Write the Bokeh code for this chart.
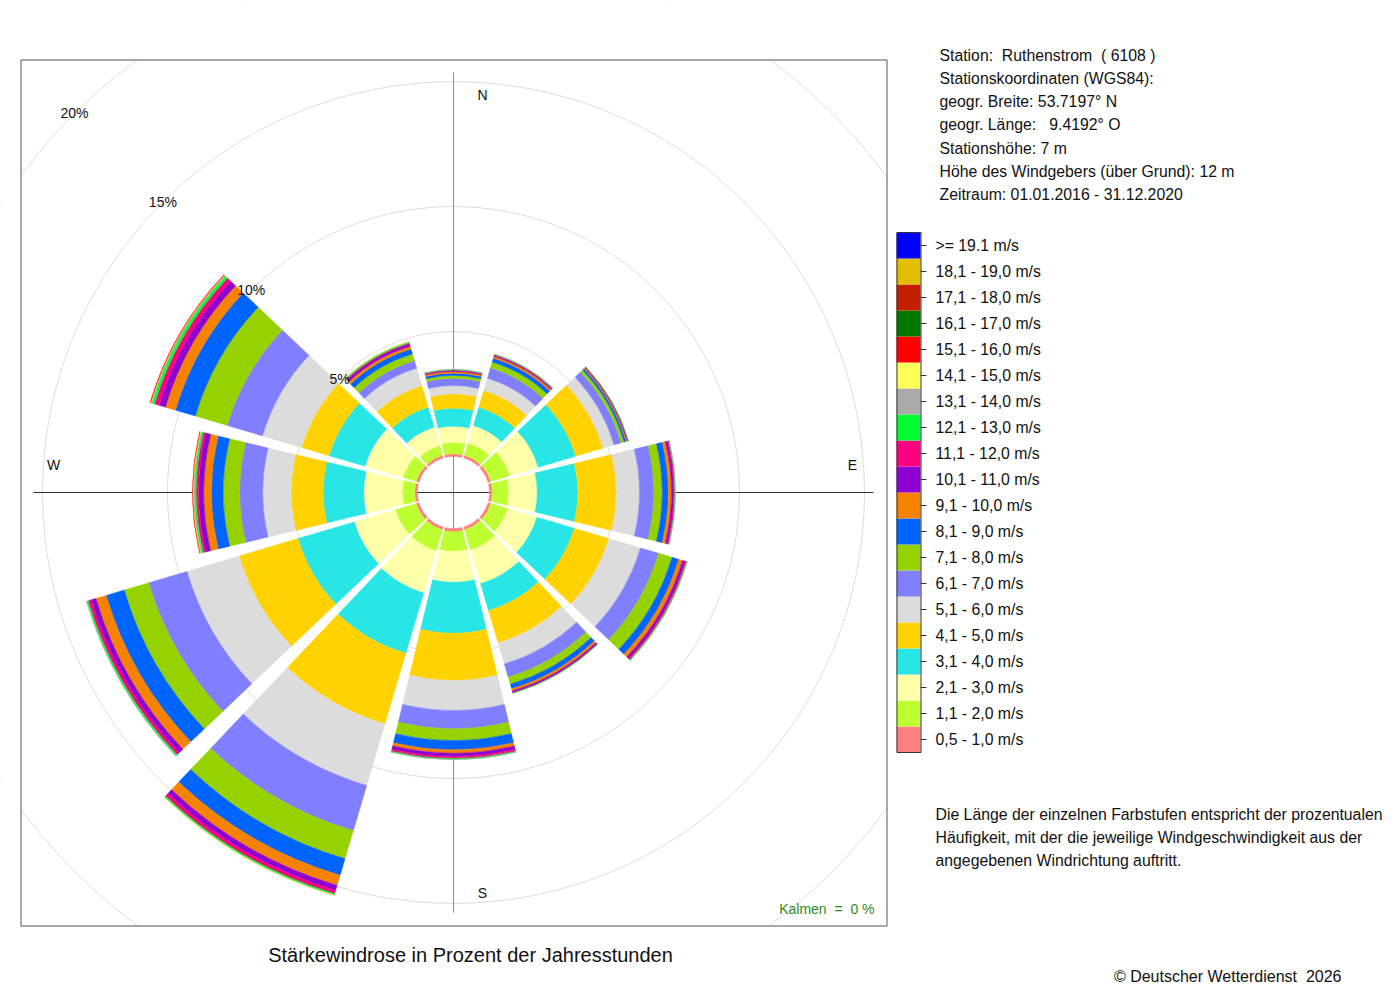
import numpy as np
from bokeh.plotting import figure
from bokeh.models import Range1d, ColumnDataSource
from bokeh.embed import file_html
from bokeh.resources import INLINE
from bokeh.core.properties import value

# ---------------- data ----------------
directions = [0, 30, 60, 90, 120, 150, 180, 210, 240, 270, 300, 330]

# percent of annual hours per speed class (rows) and direction (columns)
v_0_5_1_0 = [0.11, 0.11, 0.12, 0.11, 0.12, 0.12, 0.13, 0.12, 0.12, 0.11, 0.11, 0.11]
v_1_1_2_0 = [0.46, 0.52, 0.80, 0.66, 0.70, 0.84, 0.78, 0.88, 0.87, 0.50, 0.56, 0.41]
v_2_1_3_0 = [0.64, 0.73, 1.18, 1.14, 1.22, 1.40, 1.24, 1.75, 1.71, 1.54, 1.58, 0.76]
v_3_1_4_0 = [0.72, 0.76, 1.56, 1.62, 1.56, 1.13, 2.04, 2.52, 2.35, 1.62, 1.50, 0.84]
v_4_1_5_0 = [0.58, 0.70, 1.14, 1.54, 1.44, 1.35, 1.89, 2.95, 2.45, 1.28, 1.15, 0.90]
v_5_1_6_0 = [0.33, 0.51, 0.46, 0.93, 1.32, 0.87, 1.20, 2.56, 2.18, 1.14, 1.63, 0.72]
v_6_1_7_0 = [0.29, 0.43, 0.30, 0.57, 0.76, 0.55, 0.73, 1.89, 1.60, 0.92, 1.47, 0.32]
v_7_1_8_0 = [0.11, 0.24, 0.12, 0.34, 0.56, 0.30, 0.47, 1.17, 1.02, 0.66, 1.33, 0.28]
v_8_1_9_0 = [0.09, 0.16, 0.08, 0.24, 0.28, 0.19, 0.37, 0.69, 0.75, 0.47, 0.83, 0.21]
v_9_1_10_0 = [0.07, 0.08, 0.05, 0.13, 0.16, 0.09, 0.14, 0.42, 0.43, 0.31, 0.42, 0.11]
v_10_1_11_0 = [0.03, 0.04, 0.02, 0.08, 0.10, 0.06, 0.13, 0.21, 0.20, 0.20, 0.26, 0.09]
v_11_1_12_0 = [0.03, 0.03, 0.02, 0.05, 0.06, 0.03, 0.08, 0.14, 0.12, 0.10, 0.19, 0.05]
v_12_1_13_0 = [0.02, 0.02, 0.01, 0.02, 0.03, 0.01, 0.04, 0.05, 0.06, 0.07, 0.11, 0.04]
v_13_1_14_0 = [0.01, 0.01, 0.00, 0.01, 0.01, 0.00, 0.01, 0.02, 0.02, 0.04, 0.04, 0.02]
v_14_1_15_0 = [0.00, 0.00, 0.00, 0.00, 0.00, 0.00, 0.00, 0.01, 0.00, 0.03, 0.02, 0.01]
v_15_1_16_0 = [0.00, 0.00, 0.00, 0.00, 0.00, 0.00, 0.00, 0.00, 0.00, 0.01, 0.02, 0.00]
v_16_1_17_0 = [0.00] * 12
v_17_1_18_0 = [0.00] * 12
v_18_1_19_0 = [0.00] * 12
v_19_1_up = [0.00] * 12

speed_values = [v_0_5_1_0, v_1_1_2_0, v_2_1_3_0, v_3_1_4_0, v_4_1_5_0, v_5_1_6_0,
                v_6_1_7_0, v_7_1_8_0, v_8_1_9_0, v_9_1_10_0, v_10_1_11_0, v_11_1_12_0,
                v_12_1_13_0, v_13_1_14_0, v_14_1_15_0, v_15_1_16_0, v_16_1_17_0,
                v_17_1_18_0, v_18_1_19_0, v_19_1_up]

speed_labels = ["0,5 - 1,0 m/s", "1,1 - 2,0 m/s", "2,1 - 3,0 m/s", "3,1 - 4,0 m/s",
                "4,1 - 5,0 m/s", "5,1 - 6,0 m/s", "6,1 - 7,0 m/s", "7,1 - 8,0 m/s",
                "8,1 - 9,0 m/s", "9,1 - 10,0 m/s", "10,1 - 11,0 m/s", "11,1 - 12,0 m/s",
                "12,1 - 13,0 m/s", "13,1 - 14,0 m/s", "14,1 - 15,0 m/s", "15,1 - 16,0 m/s",
                "16,1 - 17,0 m/s", "17,1 - 18,0 m/s", "18,1 - 19,0 m/s", ">= 19.1 m/s"]

speed_colors = ["#FF8080", "#BEFF32", "#FFFFAA", "#28E6E6", "#FFD200", "#DCDCDC",
                "#7F7FFF", "#96D200", "#0064FF", "#F58200", "#8C00D2", "#FF0080",
                "#00FF32", "#AAAAAA", "#FFFF5A", "#FF0000", "#007800", "#C31E00",
                "#E1BE00", "#0000FF"]

ring_values = [5, 10, 15, 20]
ring_labels = ["5%", "10%", "15%", "20%"]
compass_labels = ["N", "E", "S", "W"]

NB = "\u00a0"
station_lines = ["Station:" + NB + " Ruthenstrom" + NB + " ( 6108 )",
                 "Stationskoordinaten (WGS84):",
                 "geogr. Breite: 53.7197\u00b0 N",
                 "geogr. L\u00e4nge:" + NB + NB + " 9.4192\u00b0 O",
                 "Stationsh\u00f6he: 7 m",
                 "H\u00f6he des Windgebers (\u00fcber Grund): 12 m",
                 "Zeitraum: 01.01.2016 - 31.12.2020"]

note_lines = ["Die L\u00e4nge der einzelnen Farbstufen entspricht der prozentualen",
              "H\u00e4ufigkeit, mit der die jeweilige Windgeschwindigkeit aus der",
              "angegebenen Windrichtung auftritt."]

title_text = "St\u00e4rkewindrose in Prozent der Jahresstunden"
calm_text = "Kalmen" + NB + " =" + NB + " 0 %"
copyright_text = "\u00a9 Deutscher Wetterdienst" + NB + " 2026"

# ---------------- layout constants ----------------
W, H = 1392, 992
PX = 25.0            # pixels per percent
R0 = 36.0 / PX       # radius of the calm circle (in percent units)
CX, CY = 453.0, 492.0  # rose centre in figure pixels
HALF = 13.5          # half sector width in degrees
FONT = value("Liberation Sans")

p = figure(width=W, height=H, output_backend="svg", toolbar_location=None,
           x_range=Range1d(-CX / PX, (W - CX) / PX),
           y_range=Range1d(-(H - CY) / PX, CY / PX),
           x_axis_location=None, y_axis_location=None, min_border=0)
p.grid.visible = False
p.outline_line_color = None
p.background_fill_color = "white"
p.border_fill_color = "white"
p.extra_x_ranges = {"px": Range1d(0, W)}
p.extra_y_ranges = {"px": Range1d(H, 0)}

# grid rings
p.circle(x=[0] * len(ring_values), y=[0] * len(ring_values),
         radius=[R0 + r for r in ring_values], fill_color=None,
         line_color="#DDDDDD", line_width=1)

# cross lines
L = 420.0 / PX
p.segment(x0=[0], y0=[-L], x1=[0], y1=[L], line_color="#8A8A8A", line_width=1)
p.segment(x0=[-L], y0=[0], x1=[L], y1=[0], line_color="#333333", line_width=1)

# wedges
vals = np.array(speed_values)          # shape (20, 12)
cum = np.cumsum(vals, axis=0)
inner, outer, start, end, cols = [], [], [], [], []
for j, d in enumerate(directions):
    prev = 0.0
    for i in range(vals.shape[0]):
        if vals[i, j] > 0:
            inner.append(R0 + prev)
            outer.append(R0 + cum[i, j])
            start.append(np.radians(90 - d - HALF))
            end.append(np.radians(90 - d + HALF))
            cols.append(speed_colors[i])
        prev = cum[i, j]
src = ColumnDataSource(dict(x=[0] * len(inner), y=[0] * len(inner), inner=inner,
                            outer=outer, start=start, end=end, color=cols))
p.annular_wedge(x="x", y="y", inner_radius="inner", outer_radius="outer",
                start_angle="start", end_angle="end", fill_color="color",
                line_color="color", line_width=0.4, source=src)

# white masks outside the plot frame (clip rings)
p.quad(left=[0, 0, 886, 0], right=[20, W, W, W],
       top=[0, 0, 0, 925], bottom=[H, 59, H, H],
       fill_color="white", line_color=None, x_range_name="px", y_range_name="px")
# frame
p.quad(left=[20.5], right=[886.5], top=[59.5], bottom=[925.5], fill_color=None,
       line_color="#555555", line_width=1, x_range_name="px", y_range_name="px")

# ring labels at bearing 315 degrees
rl = np.array([R0 + r for r in ring_values])
p.text(x=list(-rl * np.sin(np.radians(45))), y=list(rl * np.cos(np.radians(45))),
       text=ring_labels, text_align="center", text_baseline="middle",
       text_font=FONT, text_font_size="14px", text_color="#111111")

# compass labels
p.text(x=[482, 852, 482, 53], y=[94, 464, 892, 464], text=compass_labels,
       text_align="center", text_baseline="middle", text_font=FONT,
       text_font_size="14px", text_color="#111111",
       x_range_name="px", y_range_name="px")

# calm
p.text(x=[874], y=[908], text=[calm_text], text_align="right", text_baseline="middle",
       text_font=FONT, text_font_size="14px", text_color="#2E8B22",
       x_range_name="px", y_range_name="px")

# station info
p.text(x=[939] * len(station_lines), y=[55 + 23.15 * i for i in range(len(station_lines))],
       text=station_lines, text_align="left", text_baseline="middle", text_font=FONT,
       text_font_size="15.8px", text_color="#111111",
       x_range_name="px", y_range_name="px")

# legend colour bar (top entry is the highest class)
n = len(speed_labels)
top0, step = 232.0, 26.0
tops = [top0 + step * (n - 1 - i) for i in range(n)]
p.quad(left=[896] * n, right=[920] * n, top=tops, bottom=[t + step for t in tops],
       fill_color=speed_colors, line_color=None, x_range_name="px", y_range_name="px")
p.quad(left=[896.5], right=[920.5], top=[top0], bottom=[top0 + step * n], fill_color=None,
       line_color="#333333", line_width=1, x_range_name="px", y_range_name="px")
mids = [t + step / 2 for t in tops]
p.segment(x0=[920] * n, y0=mids, x1=[926] * n, y1=mids, line_color="#333333",
          line_width=1, x_range_name="px", y_range_name="px")
p.text(x=[935] * n, y=mids, text=speed_labels, text_align="left", text_baseline="middle",
       text_font=FONT, text_font_size="15.8px", text_color="#111111",
       x_range_name="px", y_range_name="px")

# explanation
p.text(x=[935] * len(note_lines), y=[814 + 23 * i for i in range(len(note_lines))],
       text=note_lines, text_align="left", text_baseline="middle", text_font=FONT,
       text_font_size="15.8px", text_color="#111111",
       x_range_name="px", y_range_name="px")

# title and copyright
p.text(x=[470], y=[954], text=[title_text], text_align="center", text_baseline="middle",
       text_font=FONT, text_font_size="20px", text_color="#111111",
       x_range_name="px", y_range_name="px")
p.text(x=[1341], y=[976], text=[copyright_text], text_align="right",
       text_baseline="middle", text_font=FONT, text_font_size="16px",
       text_color="#111111", x_range_name="px", y_range_name="px")

open("out.html", "w").write(file_html(p, INLINE))
